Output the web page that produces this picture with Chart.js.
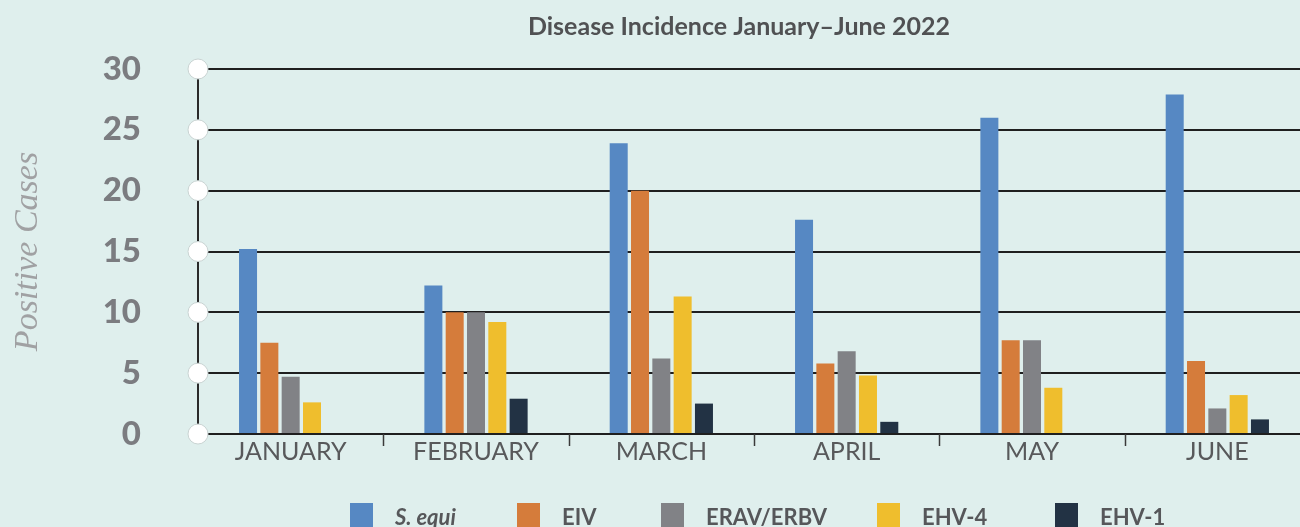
<!DOCTYPE html>
<html>
<head>
<meta charset="utf-8">
<script src="https://cdn.jsdelivr.net/npm/chart.js@4.4.1/dist/chart.umd.min.js"></script>
<style>
  html, body { margin: 0; padding: 0; overflow: hidden; background: #dfefed; }
  #wrap { width: 1300px; height: 527px; overflow: hidden; }
  canvas { display: block; }
</style>
</head>
<body>
<div id="wrap"><canvas id="incidenceChart" width="1320" height="560"></canvas></div>
<script>
// Data
const months = ['JANUARY', 'FEBRUARY', 'MARCH', 'APRIL', 'MAY', 'JUNE'];
const sEqui = [15.2, 12.2, 23.9, 17.6, 26, 27.9];
const eiv   = [7.5, 10, 20, 5.8, 7.7, 6];
const erav  = [4.7, 10, 6.2, 6.8, 7.7, 2.1];
const ehv4  = [2.6, 9.2, 11.3, 4.8, 3.8, 3.2];
const ehv1  = [0, 2.9, 2.5, 1.0, 0, 1.2];
const yTicks = [0, 5, 10, 15, 20, 25, 30];

const seriesNames = ['S. equi', 'EIV', 'ERAV/ERBV', 'EHV-4', 'EHV-1'];
const seriesColors = ['#5688c3', '#d57c3b', '#818286', '#efbe2d', '#223244'];
const seriesData = [sEqui, eiv, erav, ehv4, ehv1];

const chartTitle = 'Disease Incidence January\u2013June 2022';

// legend box positions (left edge of each coloured box)
const legendX = [350, 517, 661, 877, 1055];

// Dots on the y axis, category separators, title and legend
const decorations = {
    id: 'decorations',
    afterDraw(chart) {
        const ctx = chart.ctx;
        const area = chart.chartArea;
        const x = chart.scales.x;
        const y = chart.scales.y;

        // small separator ticks between months
        ctx.save();
        ctx.strokeStyle = '#3a3a3a';
        ctx.lineWidth = 1.5;
        const half = (x.getPixelForValue(1) - x.getPixelForValue(0)) / 2;
        for (let i = 1; i < months.length; i++) {
            const px = Math.round(x.getPixelForValue(i) - half) + 0.5;
            ctx.beginPath();
            ctx.moveTo(px, area.bottom);
            ctx.lineTo(px, area.bottom + 12);
            ctx.stroke();
        }
        ctx.restore();

        // white dots on the axis
        y.ticks.forEach(t => {
            const py = y.getPixelForValue(t.value);
            ctx.beginPath();
            ctx.arc(area.left, py, 10, 0, Math.PI * 2);
            ctx.fillStyle = '#ffffff';
            ctx.fill();
            ctx.lineWidth = 1;
            ctx.strokeStyle = '#c9d3d2';
            ctx.stroke();
        });

        // title
        ctx.save();
        ctx.font = 'bold 25px Lato';
        ctx.fillStyle = '#505153';
        ctx.textAlign = 'center';
        ctx.textBaseline = 'alphabetic';
        ctx.fillText(chartTitle, 739, 35);
        ctx.restore();

        // legend
        ctx.save();
        ctx.textBaseline = 'alphabetic';
        ctx.textAlign = 'left';
        seriesNames.forEach((n, i) => {
            ctx.fillStyle = seriesColors[i];
            ctx.fillRect(legendX[i], 503, 23, 40);
            ctx.font = i === 0 ? 'italic bold 22px Lato' : 'bold 22px Lato';
            ctx.fillStyle = '#56575a';
            ctx.fillText(n, legendX[i] + 45, 525);
        });
        ctx.restore();
    }
};

const ctx = document.getElementById('incidenceChart').getContext('2d');

const incidenceChart = new Chart(ctx, {
    type: 'bar',
    data: {
        labels: months,
        datasets: seriesData.map((d, i) => ({
            label: seriesNames[i],
            data: d,
            backgroundColor: seriesColors[i],
            borderWidth: 0,
            categoryPercentage: 0.575,
            barPercentage: 0.845,
        })),
    },
    options: {
        responsive: false,
        animation: false,
        devicePixelRatio: 1,
        layout: { padding: { top: 69, right: 10, bottom: 90, left: 0 } },
        plugins: {
            legend: { display: false },
            title: { display: false },
            tooltip: { enabled: false },
        },
        scales: {
            x: {
                grid: { display: false, drawTicks: false },
                border: { display: false },
                ticks: {
                    color: '#58595b',
                    font: { family: 'Lato', size: 25, weight: 'normal' },
                    padding: 3,
                    maxRotation: 0,
                },
            },
            y: {
                min: 0,
                max: 30,
                afterBuildTicks(scale) { scale.ticks = yTicks.map(v => ({ value: v })); },
                afterFit(scale) { scale.width = 198; },
                grid: {
                    color: '#1f1f1f',
                    lineWidth: 2,
                    drawTicks: true,
                    tickLength: 57,
                    tickColor: 'rgba(0,0,0,0)',
                },
                border: { display: true, color: '#2a2a2a', width: 2 },
                ticks: {
                    color: '#7b7c80',
                    font: { family: 'Lato', size: 33, weight: '900' },
                    padding: 0,
                },
                title: {
                    display: true,
                    text: 'Positive Cases',
                    color: '#a0a1a3',
                    font: { family: 'Liberation Serif', size: 34, style: 'italic', weight: 'normal' },
                    padding: { top: 8, bottom: 0 },
                },
            },
        },
    },
    plugins: [decorations],
});
</script>
</body>
</html>
